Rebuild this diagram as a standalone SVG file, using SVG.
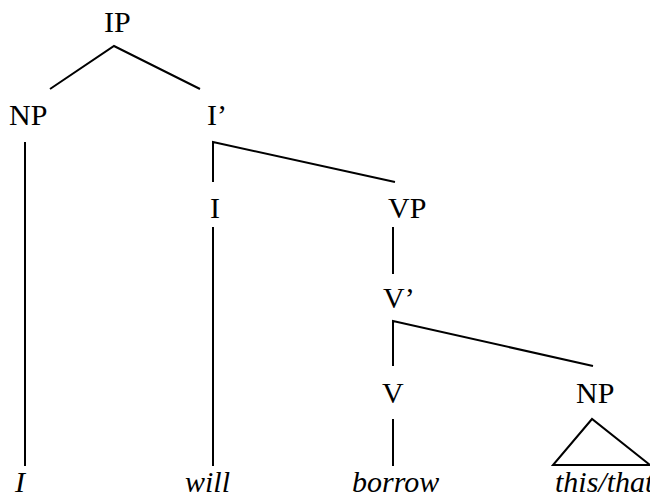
<svg xmlns="http://www.w3.org/2000/svg" width="650" height="497" viewBox="0 0 650 497">
<style>
.t{font-family:'Liberation Serif', serif;font-size:30px;fill:#000}
.w{font-style:italic}
.e{stroke:#000;stroke-width:2;fill:none}
</style>
<rect width="650" height="497" fill="#fff"/>
<g id="connectors">
<polyline class="e" points="50,89 114,46 200,89"/>
<line class="e" x1="25" y1="142" x2="25" y2="466"/>
<polyline class="e" points="213,182 213,142 395,182"/>
<line class="e" x1="213" y1="227" x2="213" y2="466"/>
<line class="e" x1="393" y1="227" x2="393" y2="274"/>
<polyline class="e" points="393,366 393,321 593,366"/>
<line class="e" x1="393" y1="419" x2="393" y2="466"/>
<polygon class="e" points="592,419 553,465 650,465"/>
</g>
<g font-family="Liberation Serif, serif" font-size="30">
<g id="IP"><text class="t" x="104" y="32">IP</text></g>
<g id="NP1"><text class="t" x="9" y="125">NP</text></g>
<g id="Ibar"><text class="t" x="207" y="125">I’</text></g>
<g id="I"><text class="t" x="210" y="218">I</text></g>
<g id="VP"><text class="t" x="388" y="218">VP</text></g>
<g id="Vbar"><text class="t" x="383" y="308">V’</text></g>
<g id="V"><text class="t" x="382" y="403">V</text></g>
<g id="NP2"><text class="t" x="576" y="403">NP</text></g>
<g id="w-I"><text class="t w" x="15" y="492">I</text></g>
<g id="w-will"><text class="t w" x="185" y="492">will</text></g>
<g id="w-borrow"><text class="t w" x="352" y="492">borrow</text></g>
<g id="w-this"><text class="t w" x="555" y="492">this/that</text></g>
</g>
</svg>
